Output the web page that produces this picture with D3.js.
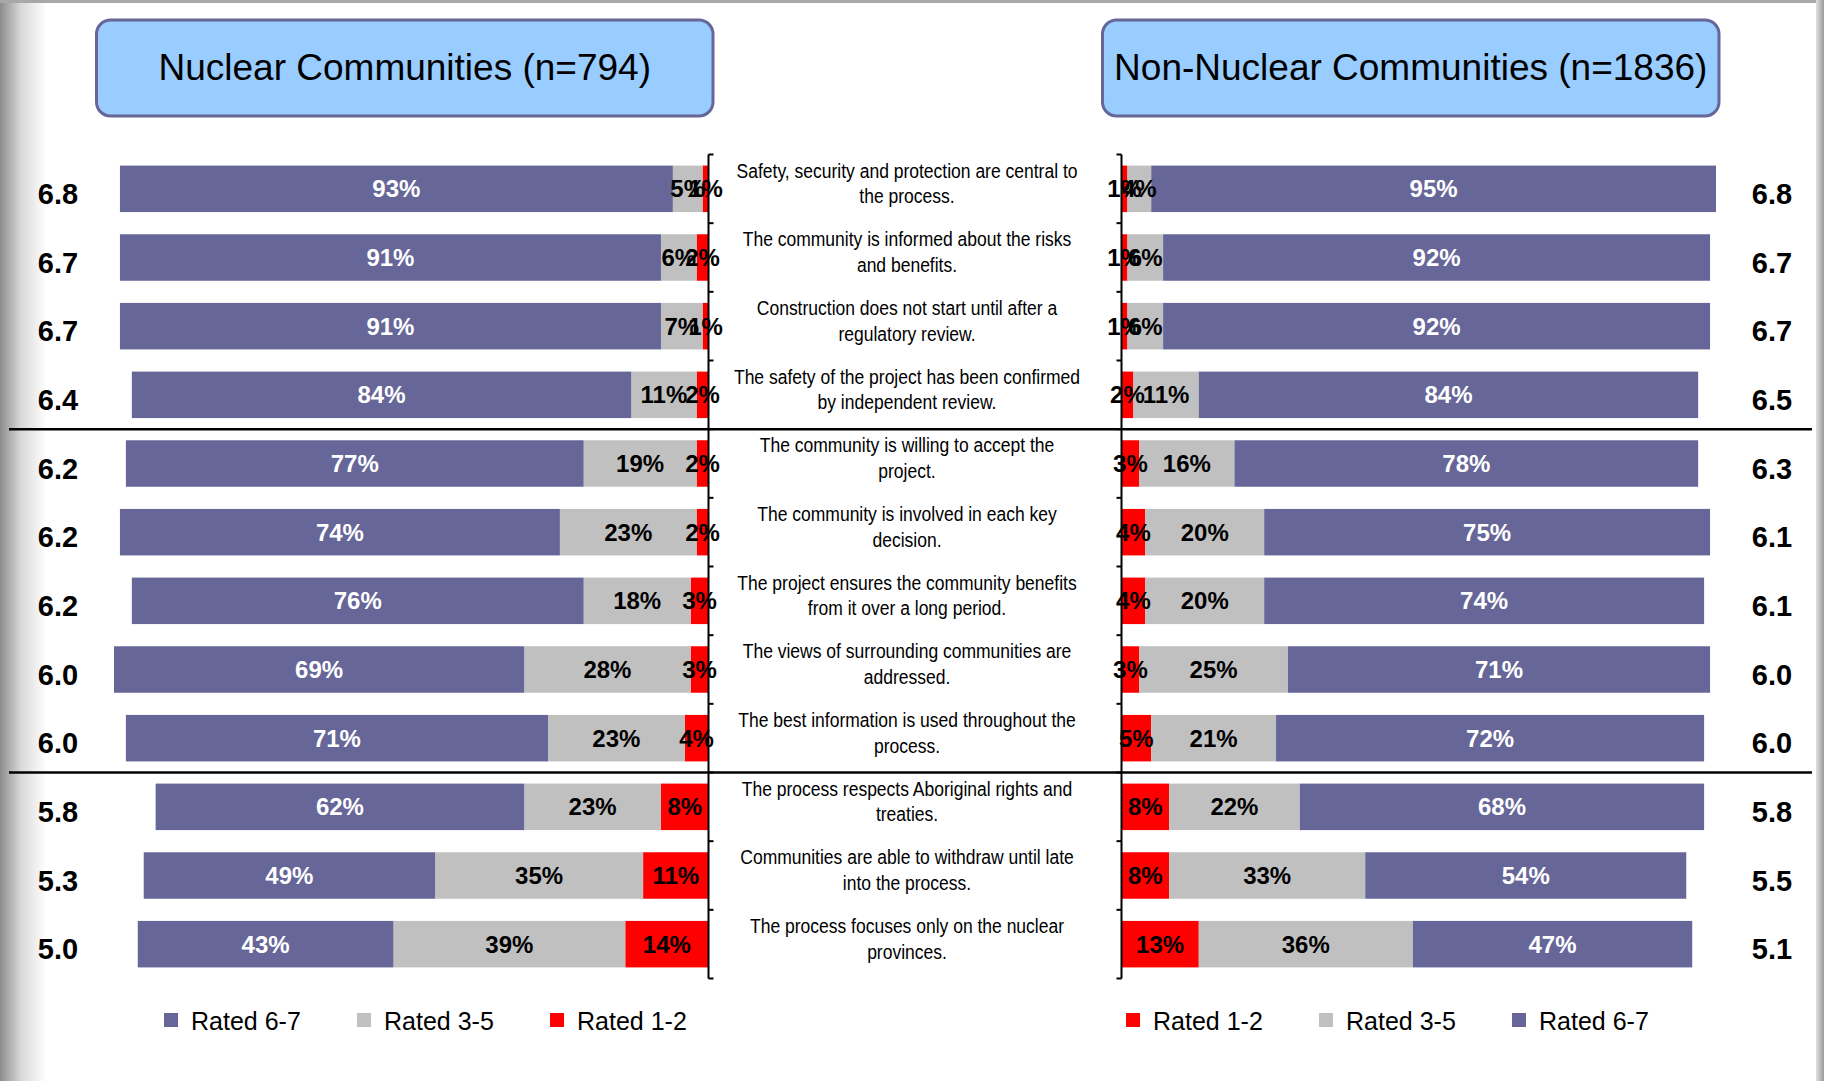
<!DOCTYPE html>
<html>
<head>
<meta charset="utf-8">
<script src="https://cdn.jsdelivr.net/npm/d3@7"></script>
<style>
  body { margin: 0; background: #fff; }
  svg { display: block; font-family: "Liberation Sans", Arial, sans-serif; }
  .stmt { font-size: 20px; fill: #000; }
  .score { font-weight: bold; font-size: 29px; fill: #000; }
  .pct { font-weight: bold; font-size: 24px; }
  .legend text { font-size: 25px; fill: #000; }
</style>
</head>
<body>
<div class="chart"></div>
<script>
// statements, two lines each
var statements = [
  ["Safety, security and protection are central to", "the process."],
  ["The community is informed about the risks", "and benefits."],
  ["Construction does not start until after a", "regulatory review."],
  ["The safety of the project has been confirmed", "by independent review."],
  ["The community is willing to accept the", "project."],
  ["The community is involved in each key", "decision."],
  ["The project ensures the community benefits", "from it over a long period."],
  ["The views of surrounding communities are", "addressed."],
  ["The best information is used throughout the", "process."],
  ["The process respects Aboriginal rights and", "treaties."],
  ["Communities are able to withdraw until late", "into the process."],
  ["The process focuses only on the nuclear", "provinces."]
];

// Nuclear communities (n=794)
var nucHigh  = [93, 91, 91, 84, 77, 74, 76, 69, 71, 62, 49, 43];
var nucMid   = [5, 6, 7, 11, 19, 23, 18, 28, 23, 23, 35, 39];
var nucLow   = [1, 2, 1, 2, 2, 2, 3, 3, 4, 8, 11, 14];
var nucScore = ["6.8", "6.7", "6.7", "6.4", "6.2", "6.2", "6.2", "6.0", "6.0", "5.8", "5.3", "5.0"];

// Non-nuclear communities (n=1836)
var nonLow   = [1, 1, 1, 2, 3, 4, 4, 3, 5, 8, 8, 13];
var nonMid   = [4, 6, 6, 11, 16, 20, 20, 25, 21, 22, 33, 36];
var nonHigh  = [95, 92, 92, 84, 78, 75, 74, 71, 72, 68, 54, 47];
var nonScore = ["6.8", "6.7", "6.7", "6.5", "6.3", "6.1", "6.1", "6.0", "6.0", "5.8", "5.5", "5.1"];

var groups = ["Rated 6-7", "Rated 3-5", "Rated 1-2"];
var titles = ["Nuclear Communities (n=794)", "Non-Nuclear Communities (n=1836)"];
var separatorsAfter = [4, 9];

var width = 1824, height = 1081;
var color = d3.scaleOrdinal()
    .domain(groups)
    .range(["#666699", "#C0C0C0", "#FF0000"]);
var textColor = d3.scaleOrdinal()
    .domain(groups)
    .range(["#fff", "#000", "#000"]);

var svg = d3.select(".chart").append("svg")
    .attr("width", width)
    .attr("height", height);

// slide frame shading
var defs = svg.append("defs");
var lg = defs.append("linearGradient").attr("id", "leftShade");
lg.append("stop").attr("offset", "0%").attr("stop-color", "#8c8c8c");
lg.append("stop").attr("offset", "45%").attr("stop-color", "#d8d8d8");
lg.append("stop").attr("offset", "100%").attr("stop-color", "#fff");
svg.append("rect").attr("x", 0).attr("y", 0).attr("width", 46).attr("height", height).attr("fill", "url(#leftShade)");
svg.append("rect").attr("x", 0).attr("y", 0).attr("width", width).attr("height", 3).attr("fill", "#a8a8a8");
var rg = defs.append("linearGradient").attr("id", "rightShade");
rg.append("stop").attr("offset", "0%").attr("stop-color", "#e0e0e0");
rg.append("stop").attr("offset", "100%").attr("stop-color", "#9a9a9a");
svg.append("rect").attr("x", 1816).attr("y", 0).attr("width", 8).attr("height", height).attr("fill", "url(#rightShade)");

var idx = d3.range(statements.length);
var y = d3.scaleBand()
    .domain(idx)
    .range([154.5, 978.5])
    .paddingInner(0.323)
    .paddingOuter(0.1615);

var axisLeftX = 708.5, axisRightX = 1121.5, pxPerPct = 5.945;
var xNuc = d3.scaleLinear().domain([0, 100]).range([axisLeftX, axisLeftX - 100 * pxPerPct]);
var xNon = d3.scaleLinear().domain([0, 100]).range([axisRightX, axisRightX + 100 * pxPerPct]);

// title boxes
var boxes = [{x: 96.5, w: 616.5, title: titles[0]}, {x: 1102.5, w: 616.5, title: titles[1]}];
var tb = svg.selectAll(".titlebox").data(boxes).enter().append("g").attr("class", "titlebox");
tb.append("rect")
    .attr("x", function(d) { return d.x; })
    .attr("y", 20)
    .attr("width", function(d) { return d.w; })
    .attr("height", 96)
    .attr("rx", 14)
    .attr("fill", "#99CCFF")
    .attr("stroke", "#666699")
    .attr("stroke-width", 3);
tb.append("text")
    .attr("x", function(d) { return d.x + d.w / 2; })
    .attr("y", 80)
    .attr("text-anchor", "middle")
    .style("font-size", "37px")
    .text(function(d) { return d.title; });

// stacked segments, counted outward from the centre axis
function stack(first, second, third, names) {
  return idx.map(function(i) {
    var a = first[i], b = second[i], c = third[i];
    return [
      {row: i, g: names[0], v: a, x0: 0, x1: a},
      {row: i, g: names[1], v: b, x0: a, x1: a + b},
      {row: i, g: names[2], v: c, x0: a + b, x1: a + b + c}
    ];
  });
}
var nucSegs = d3.merge(stack(nucLow, nucMid, nucHigh, ["Rated 1-2", "Rated 3-5", "Rated 6-7"]));
var nonSegs = d3.merge(stack(nonLow, nonMid, nonHigh, ["Rated 1-2", "Rated 3-5", "Rated 6-7"]));

function drawPanel(segs, x, cls) {
  var g = svg.append("g").attr("class", cls);
  g.selectAll("rect").data(segs).enter().append("rect")
      .attr("x", function(d) { return Math.min(x(d.x0), x(d.x1)); })
      .attr("y", function(d) { return y(d.row); })
      .attr("width", function(d) { return Math.abs(x(d.x1) - x(d.x0)); })
      .attr("height", y.bandwidth())
      .attr("fill", function(d) { return color(d.g); });
  g.selectAll("text").data(segs).enter().append("text")
      .attr("class", "pct")
      .attr("x", function(d) { return (x(d.x0) + x(d.x1)) / 2; })
      .attr("y", function(d) { return y(d.row) + y.bandwidth() / 2 + 8.5; })
      .attr("text-anchor", "middle")
      .attr("fill", function(d) { return textColor(d.g); })
      .text(function(d) { return d.v + "%"; });
}
drawPanel(nucSegs, xNuc, "nuclear");
drawPanel(nonSegs, xNon, "non-nuclear");

// axis lines with ticks at row boundaries
var bounds = d3.range(statements.length + 1).map(function(i) { return y.range()[0] + i * y.step(); });
[{x: axisLeftX, dir: 1}, {x: axisRightX, dir: -1}].forEach(function(a) {
  var g = svg.append("g").attr("class", "axis");
  g.append("line")
      .attr("x1", a.x).attr("x2", a.x)
      .attr("y1", bounds[0]).attr("y2", bounds[bounds.length - 1])
      .attr("stroke", "#000").attr("stroke-width", 2);
  g.selectAll(".tick").data(bounds).enter().append("line")
      .attr("x1", a.x).attr("x2", a.x + a.dir * 5)
      .attr("y1", function(d) { return d; }).attr("y2", function(d) { return d; })
      .attr("stroke", "#000").attr("stroke-width", 2);
});

// group separators
svg.selectAll(".sep").data(separatorsAfter).enter().append("line")
    .attr("class", "sep")
    .attr("x1", 9).attr("x2", 1812)
    .attr("y1", function(d) { return bounds[d]; })
    .attr("y2", function(d) { return bounds[d]; })
    .attr("stroke", "#000").attr("stroke-width", 2.5);

// statements in the middle (condensed like Arial Narrow)
var st = svg.selectAll(".stmt").data(statements).enter().append("text")
    .attr("class", "stmt")
    .attr("text-anchor", "middle")
    .attr("transform", "translate(907,0) scale(0.875,1)");
st.append("tspan")
    .attr("x", 0)
    .attr("y", function(d, i) { return y(i) + y.bandwidth() / 2 - 11; })
    .text(function(d) { return d[0]; });
st.append("tspan")
    .attr("x", 0)
    .attr("y", function(d, i) { return y(i) + y.bandwidth() / 2 + 14.5; })
    .text(function(d) { return d[1]; });

// mean scores
svg.selectAll(".score-l").data(nucScore).enter().append("text")
    .attr("class", "score")
    .attr("x", 58)
    .attr("y", function(d, i) { return y(i) + y.bandwidth() / 2 + 15; })
    .attr("text-anchor", "middle")
    .text(function(d) { return d; });
svg.selectAll(".score-r").data(nonScore).enter().append("text")
    .attr("class", "score")
    .attr("x", 1772)
    .attr("y", function(d, i) { return y(i) + y.bandwidth() / 2 + 15; })
    .attr("text-anchor", "middle")
    .text(function(d) { return d; });

// legends
function legend(items, xs) {
  var g = svg.append("g").attr("class", "legend");
  var it = g.selectAll("g").data(items).enter().append("g")
      .attr("transform", function(d, i) { return "translate(" + xs[i] + ",1013)"; });
  it.append("rect").attr("width", 14).attr("height", 14).attr("fill", function(d) { return color(d); });
  it.append("text").attr("x", 27).attr("y", 17).text(function(d) { return d; });
}
legend(["Rated 6-7", "Rated 3-5", "Rated 1-2"], [164, 357, 550]);
legend(["Rated 1-2", "Rated 3-5", "Rated 6-7"], [1126, 1319, 1512]);
</script>
</body>
</html>
